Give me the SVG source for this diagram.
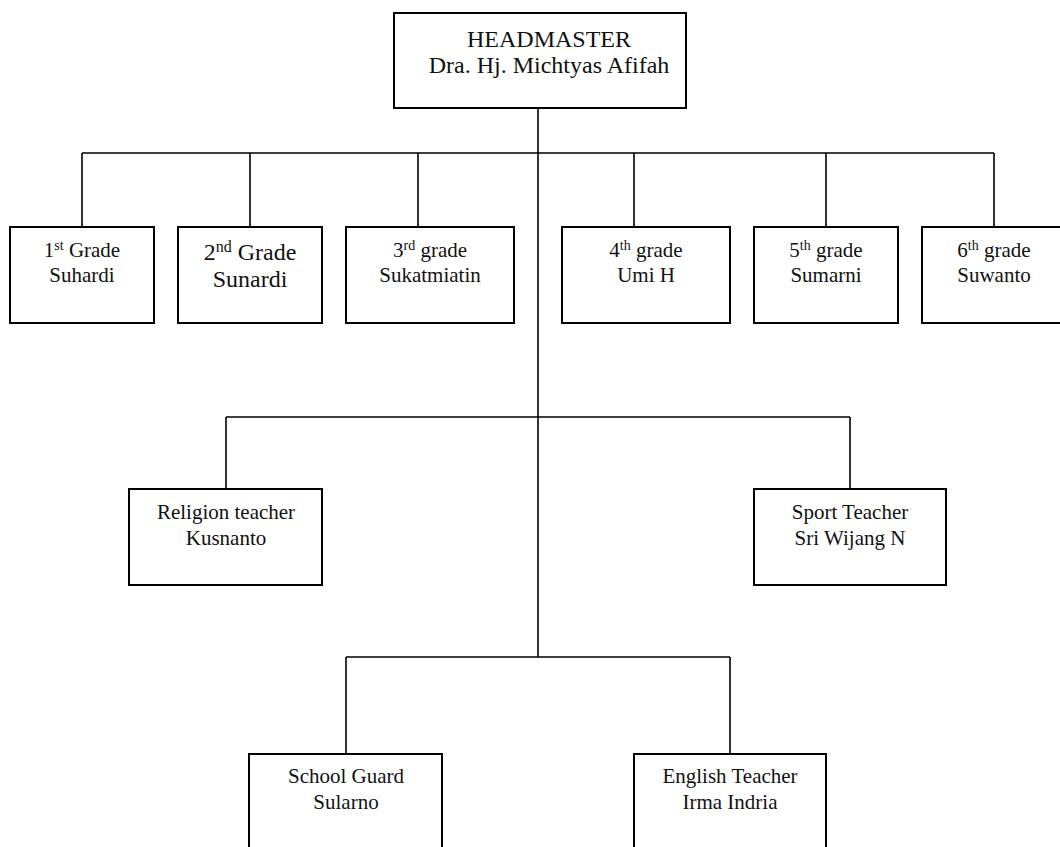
<svg xmlns="http://www.w3.org/2000/svg" width="1060" height="847" viewBox="0 0 1060 847">
<style>
.box{fill:#fff;stroke:#000;stroke-width:2}
.ln{fill:none;stroke:#000;stroke-width:1.6}
text{font-family:"Liberation Serif","Times New Roman",serif;font-size:21px;fill:#111;text-anchor:middle}
.big{font-size:24px}
.sup{font-size:14px}
.supb{font-size:16px}
</style>
<rect width="1060" height="847" fill="#fff"/>
<g id="connectors">
<path class="ln" d="M538 108V657" stroke-width="2"/>
<path class="ln" d="M82 153H994M82 153V227M250 153V227M418 153V227M634 153V227M826 153V227M994 153V227"/>
<path class="ln" d="M226 417H850M226 417V489M850 417V489"/>
<path class="ln" d="M346 657H730M346 657V754M730 657V754"/>
</g>
<g id="headmaster">
<rect class="box" x="394" y="13" width="292" height="95"/>
<text class="big" x="549" y="47">HEADMASTER</text>
<text class="big" x="549" y="73">Dra. Hj. Michtyas Afifah</text>
</g>
<g id="grade1">
<rect class="box" x="10" y="227" width="144" height="96"/>
<text x="82" y="257">1<tspan class="sup" dy="-7">st</tspan><tspan dy="7"> Grade</tspan></text>
<text x="82" y="282">Suhardi</text>
</g>
<g id="grade2">
<rect class="box" x="178" y="227" width="144" height="96"/>
<text class="big" x="250" y="260">2<tspan class="supb" dy="-8">nd</tspan><tspan dy="8"> Grade</tspan></text>
<text class="big" x="250" y="287">Sunardi</text>
</g>
<g id="grade3">
<rect class="box" x="346" y="227" width="168" height="96"/>
<text x="430" y="257">3<tspan class="sup" dy="-7">rd</tspan><tspan dy="7"> grade</tspan></text>
<text x="430" y="282">Sukatmiatin</text>
</g>
<g id="grade4">
<rect class="box" x="562" y="227" width="168" height="96"/>
<text x="646" y="257">4<tspan class="sup" dy="-7">th</tspan><tspan dy="7"> grade</tspan></text>
<text x="646" y="282">Umi H</text>
</g>
<g id="grade5">
<rect class="box" x="754" y="227" width="144" height="96"/>
<text x="826" y="257">5<tspan class="sup" dy="-7">th</tspan><tspan dy="7"> grade</tspan></text>
<text x="826" y="282">Sumarni</text>
</g>
<g id="grade6">
<rect class="box" x="922" y="227" width="144" height="96"/>
<text x="994" y="257">6<tspan class="sup" dy="-7">th</tspan><tspan dy="7"> grade</tspan></text>
<text x="994" y="282">Suwanto</text>
</g>
<g id="religion">
<rect class="box" x="129" y="489" width="193" height="96"/>
<text x="226" y="519">Religion teacher</text>
<text x="226" y="545">Kusnanto</text>
</g>
<g id="sport">
<rect class="box" x="754" y="489" width="192" height="96"/>
<text x="850" y="519">Sport Teacher</text>
<text x="850" y="545">Sri Wijang N</text>
</g>
<g id="guard">
<rect class="box" x="249" y="754" width="193" height="110"/>
<text x="346" y="783">School Guard</text>
<text x="346" y="809">Sularno</text>
</g>
<g id="english">
<rect class="box" x="634" y="754" width="192" height="110"/>
<text x="730" y="783">English Teacher</text>
<text x="730" y="809">Irma Indria</text>
</g>
</svg>
